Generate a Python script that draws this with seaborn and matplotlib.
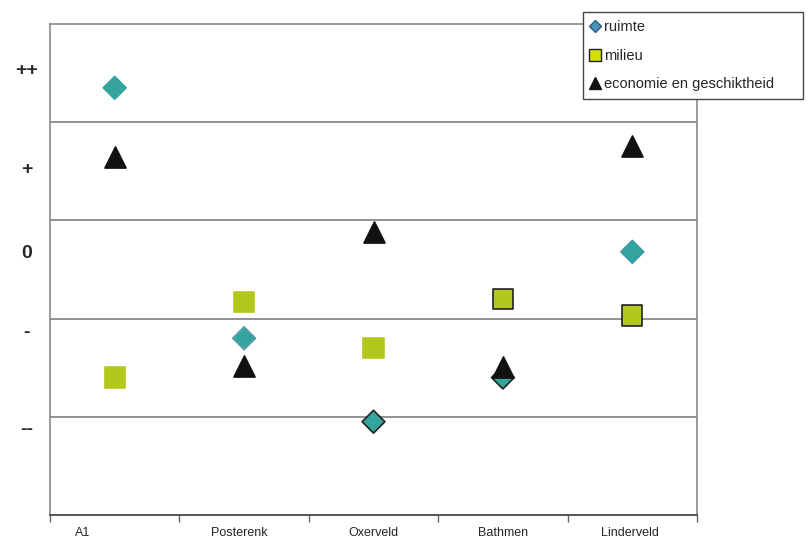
import matplotlib
matplotlib.use("Agg")
import matplotlib.pyplot as plt
from matplotlib.lines import Line2D
import seaborn as sns
import pandas as pd

# Locations and scores per theme (scale: ++ high ... -- low)
locations = ["A1", "Posterenk", "Oxerveld", "Bathmen", "Linderveld"]
ruimte = [1.85, -0.70, -1.55, -1.10, 0.18]
milieu = [-1.10, -0.33, -0.80, -0.30, -0.47]
economie = [1.15, -0.98, 0.38, -0.99, 1.26]

series_names = ["ruimte", "milieu", "economie en geschiktheid"]
score_labels = ["++", "+", "0", "-", "--"]

df = pd.DataFrame({
    "locatie": locations * 3,
    "score": ruimte + milieu + economie,
    "thema": [n for n in series_names for _ in locations],
})

sns.set_style("white")
plt.rcParams["font.family"] = ["Liberation Sans", "DejaVu Sans"]

fig = plt.figure(figsize=(8.1, 5.44), dpi=100)
ax = fig.add_axes([50 / 810, 1 - 515 / 544, 647 / 810, 491 / 544])

# band separators
for yb in [-1.5, -0.5, 0.5, 1.5]:
    ax.axhline(yb, color="#8a8a8a", lw=1.3, zorder=1)

styles = {
    "ruimte": dict(marker="D", s=135, color="#34a59c",
                   edgecolor=["#34a59c", "#5a9db0", "#222222", "#222222", "#3a9aa8"]),
    "milieu": dict(marker="s", s=215, color="#b3c81c",
                   edgecolor=["#b3c81c", "#b3c81c", "#b3c81c", "#222222", "#222222"]),
    "economie en geschiktheid": dict(marker="^", s=230, color="#111111",
                                     edgecolor="#111111"),
}

for name in series_names:
    st = styles[name]
    sub = df[df["thema"] == name]
    sns.scatterplot(data=sub, x="locatie", y="score", ax=ax,
                    marker=st["marker"], s=st["s"], color=st["color"],
                    edgecolor=st["edgecolor"], linewidth=1.2, zorder=3,
                    legend=False)

ax.set_xlim(-0.5, len(locations) - 0.5)
ax.set_ylim(-2.5, 2.5)
ax.set_xlabel("")
ax.set_ylabel("")

# category boundaries as tick marks, names as minor tick labels
ax.set_xticks([i - 0.5 for i in range(len(locations) + 1)])
ax.set_xticklabels([""] * (len(locations) + 1))
ax.tick_params(axis="x", which="major", length=5, width=1, color="#666666",
               direction="out", bottom=True)
ax.set_xticks([-0.25, 0.96, 2.0, 3.0, 3.98], minor=True)
ax.set_xticklabels(locations, minor=True, fontsize=9)
ax.tick_params(axis="x", which="minor", length=0, pad=9)

ax.set_yticks([2.05, 1.04, 0.18, -0.62, -1.61])
ax.set_yticklabels(score_labels, fontsize=14, fontweight="bold")
for lab in ax.get_yticklabels():
    lab.set_horizontalalignment("center")
ax.tick_params(axis="y", length=0, pad=17)

for side in ["top", "left", "right"]:
    ax.spines[side].set_color("#8a8a8a")
    ax.spines[side].set_linewidth(1.2)
ax.spines["bottom"].set_color("#555555")
ax.spines["bottom"].set_linewidth(1.4)

handles = [
    Line2D([], [], ls="none", marker="D", markersize=6,
           markerfacecolor="#4a95b5", markeredgecolor="#2a5a80"),
    Line2D([], [], ls="none", marker="s", markersize=8,
           markerfacecolor="#d4e000", markeredgecolor="#222222"),
    Line2D([], [], ls="none", marker="^", markersize=8,
           markerfacecolor="#111111", markeredgecolor="#111111"),
]
leg = fig.legend(handles, series_names, loc="upper left",
                 bbox_to_anchor=(583 / 810, 1 - 12 / 544, 220 / 810, 0),
                 mode="expand",
                 frameon=True, fancybox=False, framealpha=1,
                 edgecolor="#444444", fontsize=10.5,
                 handlelength=0.6, handletextpad=0.3,
                 labelspacing=1.0, borderpad=0.55, borderaxespad=0)
leg.get_frame().set_linewidth(1.0)

fig.savefig("out.png", dpi=100)
